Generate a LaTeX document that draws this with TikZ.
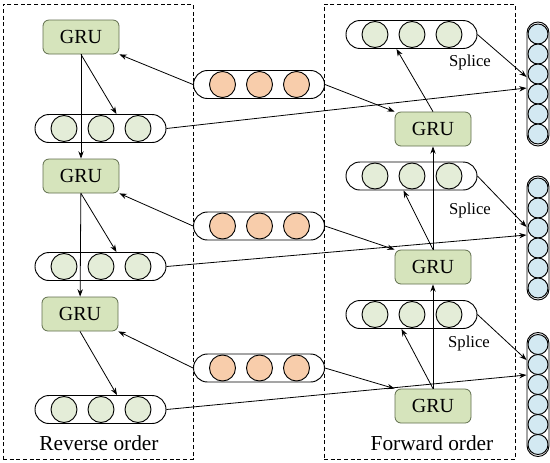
\documentclass[tikz,border=0pt]{standalone}
\usepackage{fontspec}
\setmainfont{Liberation Serif}
\usetikzlibrary{arrows.meta,calc}
\definecolor{grufill}{HTML}{D6E4BC}
\definecolor{gruedge}{HTML}{5F6D4C}
\definecolor{gdot}{HTML}{E4EDD8}
\definecolor{odot}{HTML}{F8CDAB}
\definecolor{bdotc}{HTML}{D3E9F2}
\tikzset{
  grubox/.style={draw=gruedge,fill=grufill,rounded corners=4.5pt,minimum width=57pt,minimum height=25.5pt,inner sep=0pt,font=\fontsize{15}{15}\selectfont,line width=0.6pt},
  hbarsty/.style={draw,rounded corners=10.5pt,minimum width=98.25pt,minimum height=21pt,inner sep=0pt,line width=0.7pt},
  dotsty/.style={draw,circle,minimum size=19.5pt,inner sep=0pt,line width=0.7pt},
  vbarsty/.style={draw,rounded corners=8.25pt,minimum width=16.5pt,minimum height=93pt,inner sep=0pt,line width=0.7pt},
  bdot/.style={draw,circle,fill=bdotc,minimum size=15pt,inner sep=0pt,line width=0.7pt},
  arr/.style={-{Stealth[length=5.5pt,width=4pt]},line width=0.6pt},
  frame/.style={draw,dashed,dash pattern=on 3pt off 2pt,line width=0.6pt},
  lbl/.style={font=\fontsize{16}{16}\selectfont,inner sep=0pt},
  splice/.style={font=\fontsize{12.5}{12.5}\selectfont,inner sep=0pt}
}
\newcommand{\hbarnode}[4]{%
  \node[hbarsty] (#1) at (#2,#3) {};
  \foreach \i/\dx in {1/-36.5,2/0.5,3/37.5}
    \node[dotsty,fill=#4] (#1c\i) at (#2+\dx,#3) {};
}
\newcommand{\vbarnode}[3]{%
  \node[vbarsty] (#1) at (#2,#3) {};
  \foreach \i/\dy in {1/-50,2/-30,3/-10,4/10,5/30,6/50}
    \node[bdot] (#1c\i) at (#2,#3+\dy) {};
}
\begin{document}
\begin{tikzpicture}[x=0.75pt,y=-0.75pt]
\useasboundingbox (0,0) rectangle (550,462);
% frames
\node[frame,minimum width=142.5pt,minimum height=341.25pt,inner sep=0pt] (lframe) at (98,231.5) {};
\node[frame,minimum width=143.25pt,minimum height=341.25pt,inner sep=0pt] (rframe) at (419.5,231.5) {};
% GRUs
\node[grubox] (gl1) at (81,37) {GRU};
\node[grubox] (gl2) at (81,176) {GRU};
\node[grubox] (gl3) at (80,314) {GRU};
\node[grubox] (gr1) at (433,129) {GRU};
\node[grubox] (gr2) at (433,267) {GRU};
\node[grubox] (gr3) at (433,406) {GRU};
% bars
\hbarnode{lb1}{100.5}{128.5}{gdot}
\hbarnode{lb2}{100.5}{266.5}{gdot}
\hbarnode{lb3}{100.5}{409.5}{gdot}
\hbarnode{ob1}{259}{84.5}{odot}
\hbarnode{ob2}{259}{226}{odot}
\hbarnode{ob3}{259}{368}{odot}
\hbarnode{rb1}{411.5}{34.5}{gdot}
\hbarnode{rb2}{411.5}{176}{gdot}
\hbarnode{rb3}{411.5}{314.5}{gdot}
\vbarnode{bb1}{538}{84}
\vbarnode{bb2}{538}{238}
\vbarnode{bb3}{538}{394.5}
% labels
\node[splice] (sp1) at (470,62) {Splice};
\node[splice] (sp2) at (470,210) {Splice};
\node[splice] (sp3) at (469,343) {Splice};
\node[lbl] (rev) at (99,443) {Reverse order};
\node[lbl] (fwd) at (432,443) {Forward order};
% left arrows
\draw[arr] (gl1) -- (gl2);
\draw[arr] (gl2) -- (gl3);
\draw[arr] (gl1.south) -- ($(lb1.north)+(16,0)$);
\draw[arr] (gl2.south) -- ($(lb2.north)+(16,0)$);
\draw[arr] (gl3.south) -- ($(lb3.north)+(16.5,0)$);
\draw[arr] (ob1.west) -- (gl1.south east);
\draw[arr] (ob2.west) -- (gl2.south east);
\draw[arr] (ob3.west) -- (gl3.south east);
% right arrows
\draw[arr] (gr3) -- (gr2);
\draw[arr] (gr2) -- (gr1);
\draw[arr] (gr1.north) -- ($(rb1.south)+(-15,0)$);
\draw[arr] (gr2.north) -- ($(rb2.south)+(-8,0)$);
\draw[arr] (gr3.north) -- ($(rb3.south)+(-10,0)$);
\draw[arr] (ob1.east) -- (gr1.north west);
\draw[arr] (ob2.east) -- (gr2.north west);
\draw[arr] (ob3.east) -- (gr3.north west);
% to splice bars
\draw[arr] (rb1.east) -- ($(bb1.west)+(0,-7)$);
\draw[arr] (lb1.east) -- ($(bb1.west)+(0,4)$);
\draw[arr] (rb2.east) -- ($(bb2.west)+(0,-11)$);
\draw[arr] (lb2.east) -- ($(bb2.west)+(0,-3)$);
\draw[arr] (rb3.east) -- ($(bb3.west)+(0,-34.5)$);
\draw[arr] (lb3.east) -- ($(bb3.west)+(0,-19.5)$);
\end{tikzpicture}
\end{document}
